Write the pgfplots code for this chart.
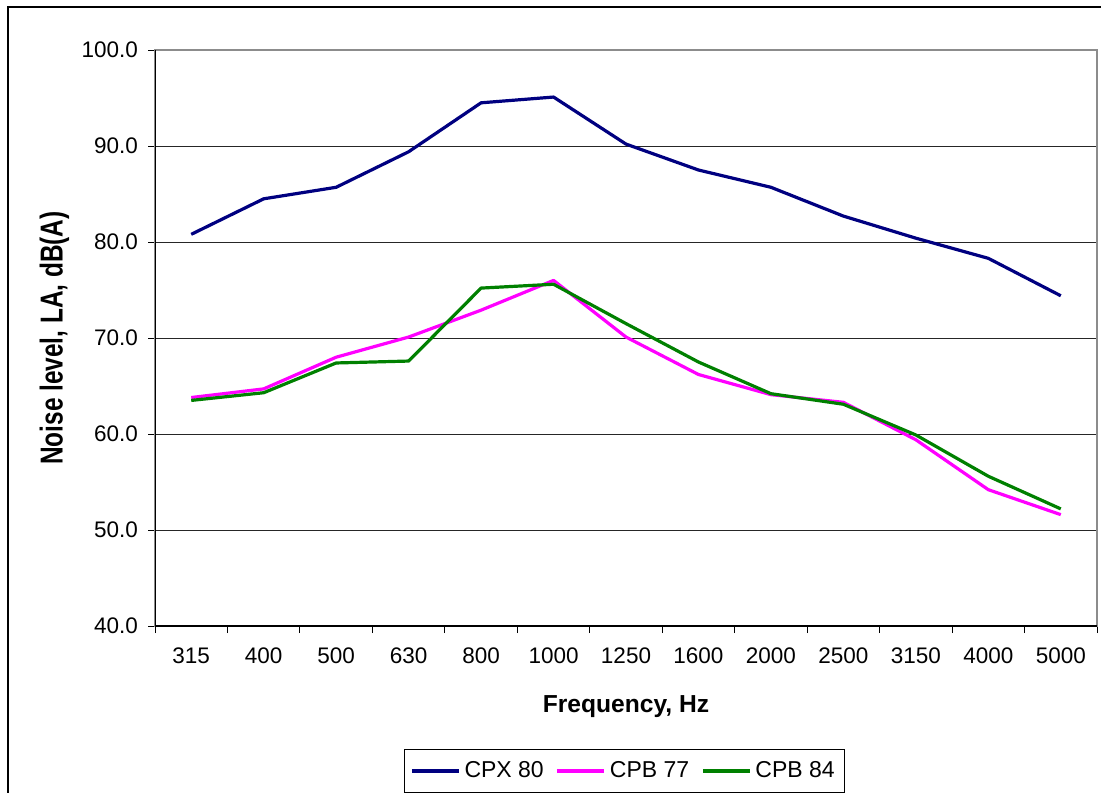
\documentclass[border=0pt]{standalone}
\usepackage{fontspec}
\setmainfont{Liberation Sans}
\usepackage{pgfplots}
\pgfplotsset{compat=1.18}

\definecolor{cpx}{RGB}{0,0,128}
\definecolor{cpbA}{RGB}{255,0,255}
\definecolor{cpbB}{RGB}{0,128,0}

\begin{document}
\begin{tikzpicture}
\useasboundingbox (0,0) rectangle (550.5pt,-396pt);
% chart frame (right and bottom edges fall outside the picture)
\draw[black, line width=0.6pt] (4pt,-420pt) -- (4pt,-3.5pt) -- (570pt,-3.5pt);
\begin{axis}[
  at={(77.5pt,-313pt)}, anchor=south west,
  scale only axis, width=471pt, height=288pt,
  xmin=-0.5, xmax=12.5, ymin=40, ymax=100,
  xtick={0,...,12},
  xticklabels={315,400,500,630,800,1000,1250,1600,2000,2500,3150,4000,5000},
  minor xtick={-0.5,0.5,...,12.5},
  ytick={40,50,...,100},
  tick pos=left,
  ymajorgrids,
  major grid style={black!85, line width=0.5pt},
  tick align=outside,
  major x tick style={draw=none},
  major tick length=3.5pt, minor tick length=3.5pt,
  tick style={black, line width=0.5pt},
  axis line style={draw=black!45, line width=0.6pt},
  /pgf/number format/assume math mode=true,
  yticklabel style={/pgf/number format/fixed, /pgf/number format/fixed zerofill, /pgf/number format/precision=1, xshift=-1.5pt},
  ticklabel style={font=\fontsize{11.25}{13}\selectfont},
  xticklabel style={yshift=-4pt},
  xlabel={Frequency, Hz},
  ylabel={Noise level, LA, dB(A)},
  xlabel style={font=\fontsize{12.3}{14}\selectfont\bfseries, at={(axis description cs:0.5,-0.1493)}, anchor=base},
  ylabel style={font=\fontsize{12.2}{14}\selectfont\bfseries, at={(axis description cs:-0.098,0.5)}, anchor=base, yscale=1.3},
  legend columns=3,
  legend image code/.code={\draw[#1] (0pt,0pt) -- (23.5pt,0pt);},
  legend style={at={(axis description cs:0.4984,-0.2135)}, anchor=north,
    draw=black, line width=0.5pt, font=\fontsize{11.5}{13}\selectfont,
    inner xsep=3pt, inner ysep=4pt,
    nodes={inner xsep=2pt},
    /tikz/every even column/.append style={column sep=4pt}},
  every axis plot/.append style={line width=1.6pt, line join=round},
]
\addplot[cpx] coordinates {
  (0,80.8) (1,84.5) (2,85.7) (3,89.4) (4,94.5) (5,95.1) (6,90.2)
  (7,87.5) (8,85.7) (9,82.7) (10,80.4) (11,78.3) (12,74.4)
};
\addlegendentry{CPX 80}
\addplot[cpbA] coordinates {
  (0,63.8) (1,64.7) (2,68.0) (3,70.1) (4,72.9) (5,76.0) (6,70.1)
  (7,66.2) (8,64.1) (9,63.3) (10,59.4) (11,54.2) (12,51.6)
};
\addlegendentry{CPB 77}
\addplot[cpbB] coordinates {
  (0,63.5) (1,64.3) (2,67.4) (3,67.6) (4,75.2) (5,75.6) (6,71.5)
  (7,67.5) (8,64.2) (9,63.1) (10,59.9) (11,55.6) (12,52.2)
};
\addlegendentry{CPB 84}
\draw[black, line width=0.6pt] (rel axis cs:0,1) -- (rel axis cs:0,0) -- (rel axis cs:1,0);
\end{axis}
\end{tikzpicture}
\end{document}
